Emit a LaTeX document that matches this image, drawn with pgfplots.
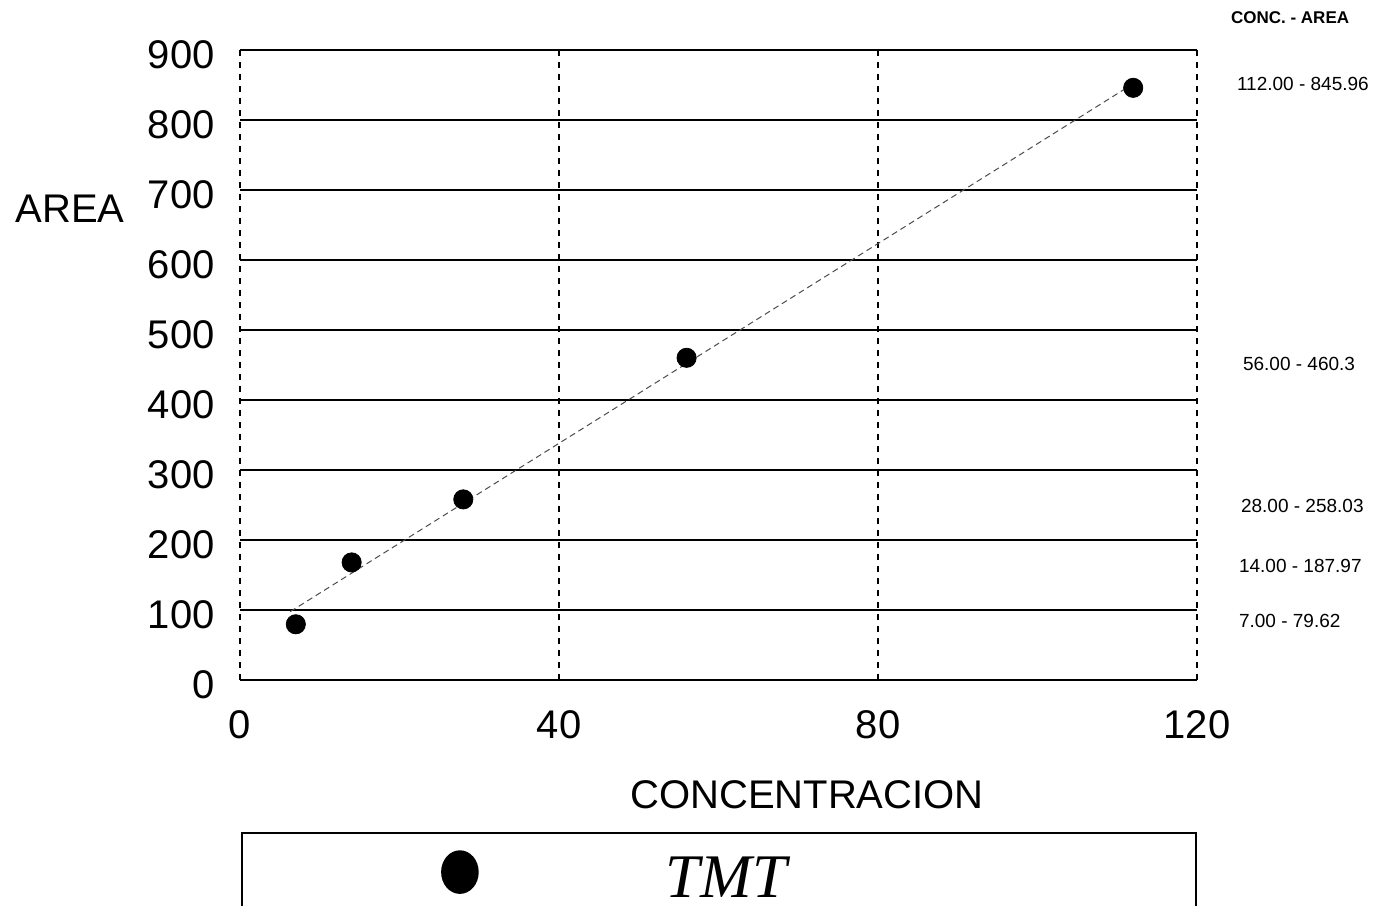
\documentclass[border=0pt]{standalone}
\usepackage{fontspec}
\setmainfont{Liberation Sans}
\newfontfamily\tmtfont{Liberation Serif}
\usepackage{pgfplots}
\pgfplotsset{compat=1.18}
\begin{document}
\begin{tikzpicture}
\useasboundingbox (0,0) rectangle (687pt,452.5pt);
\begin{axis}[
  at={(120pt,112.5pt)}, anchor=south west,
  scale only axis, width=478.5pt, height=315pt,
  xmin=0, xmax=120, ymin=0, ymax=900,
  xtick={0,40,80,120}, ytick={0,100,...,900},
  axis line style={draw=none},
  major tick length=0pt,
  xmajorgrids, ymajorgrids,
  x grid style={black, dashed, line width=0.6pt},
  y grid style={black, line width=0.9pt},
  tick label style={font=\fontsize{20}{24}\selectfont},
  /pgf/number format/assume math mode=true,
  xticklabel style={anchor=base, yshift=-29pt},
  yticklabel style={anchor=east, inner sep=0pt, xshift=-12.5pt, yshift=-2.5pt},
  xlabel={CONCENTRACION},
  xlabel style={at={(axis description cs:0.5925,-0.1825)}, anchor=center, font=\fontsize{20}{24}\selectfont},
  ylabel={AREA},
  ylabel style={rotate=-90, at={(axis description cs:-0.1776,0.7476)}, anchor=center, font=\fontsize{20}{24}\selectfont},
  clip=false,
  legend style={at={(0.002,-0.243)}, anchor=north west, draw=black, line width=0.8pt,
    inner sep=0pt, outer sep=0pt,
    font=\tmtfont\itshape\fontsize{31}{36}\selectfont,
    nodes={draw=none, text width=262pt, align=left, inner sep=3pt},
    /tikz/every even column/.style={column sep=0pt}},
  legend cell align=left,
  legend image code/.code={\path[draw=none, fill=none] (-109pt,-60pt) rectangle (100pt,23pt); \fill[black] (0,3.5pt) ellipse (9pt and 10.5pt);},
]
\addplot[gray!60!black, densely dashed, line width=0.5pt, forget plot] coordinates {(6.3,97.7) (111.2,846.1)};
\addplot[only marks, mark=*, mark size=4.8pt, black] coordinates {
  (7,79.62) (14,167.97) (28,258.03) (56,460.3) (112,845.96)};
\addlegendentry{TMT}
\end{axis}
\node[anchor=west, font=\bfseries\fontsize{8.5}{10}\selectfont] at (612pt,443.5pt) {CONC. - AREA};
\begin{scope}[every node/.style={anchor=west, font=\fontsize{9.5}{11}\selectfont}]
\node at (615pt,410.5pt) {112.00 - 845.96};
\node at (618pt,270.5pt) {56.00 - 460.3};
\node at (617pt,199.5pt) {28.00 - 258.03};
\node at (616pt,169.5pt) {14.00 - 187.97};
\node at (616pt,142pt) {7.00 - 79.62};
\end{scope}
\end{tikzpicture}
\end{document}
